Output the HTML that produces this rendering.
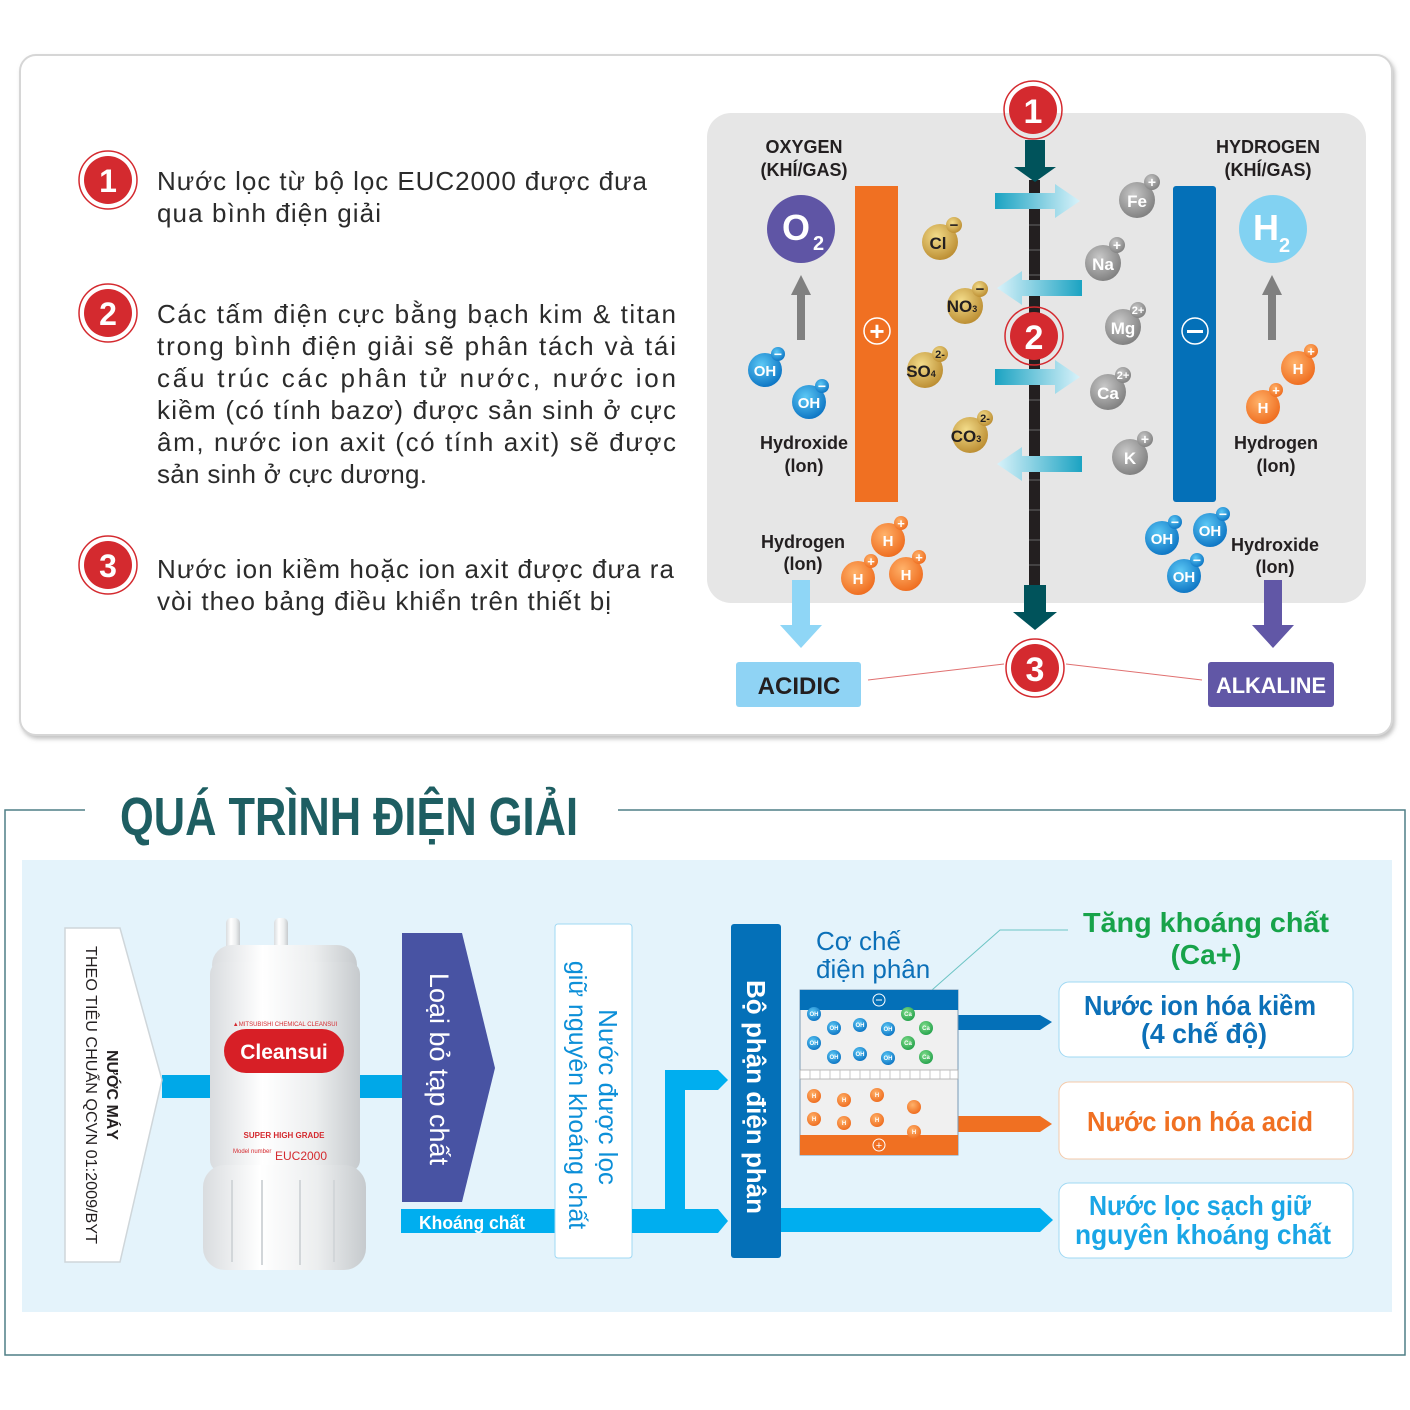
<!DOCTYPE html>
<html><head><meta charset="utf-8"><style>
html,body{margin:0;padding:0;background:#fff;}
svg{display:block;font-family:"Liberation Sans",sans-serif;}
</style></head><body>
<svg width="1410" height="1410" viewBox="0 0 1410 1410" xmlns="http://www.w3.org/2000/svg">
<defs>
<radialGradient id="gG" cx="0.4" cy="0.35" r="0.7"><stop offset="0" stop-color="#f3dc8a"/><stop offset="1" stop-color="#b98a2e"/></radialGradient>
<radialGradient id="gS" cx="0.4" cy="0.35" r="0.7"><stop offset="0" stop-color="#c8c8c8"/><stop offset="1" stop-color="#7d7d7d"/></radialGradient>
<radialGradient id="gB" cx="0.4" cy="0.35" r="0.7"><stop offset="0" stop-color="#5cc8f5"/><stop offset="1" stop-color="#0a72c2"/></radialGradient>
<radialGradient id="gO" cx="0.4" cy="0.35" r="0.7"><stop offset="0" stop-color="#ffb26a"/><stop offset="1" stop-color="#ee6a1c"/></radialGradient>
<radialGradient id="gGr" cx="0.4" cy="0.35" r="0.7"><stop offset="0" stop-color="#7fdc8a"/><stop offset="1" stop-color="#22a04a"/></radialGradient>
<linearGradient id="cyR" x1="0" x2="1"><stop offset="0" stop-color="#1ba3c2"/><stop offset="1" stop-color="#d8f2fa"/></linearGradient>
<linearGradient id="cyL" x1="1" x2="0"><stop offset="0" stop-color="#1ba3c2"/><stop offset="1" stop-color="#d8f2fa"/></linearGradient>
<linearGradient id="cyl" x1="0" x2="1"><stop offset="0" stop-color="#d9dcdf"/><stop offset="0.35" stop-color="#ffffff"/><stop offset="0.7" stop-color="#eceeef"/><stop offset="1" stop-color="#c6cacd"/></linearGradient>
<filter id="sh" x="-5%" y="-5%" width="110%" height="110%"><feDropShadow dx="2" dy="3" stdDeviation="2" flood-color="#999" flood-opacity="0.6"/></filter>
</defs>

<rect x="20" y="55" width="1372" height="680" rx="16" fill="#fff" stroke="#d6d6d6" stroke-width="2" filter="url(#sh)"/>

<g font-weight="bold" fill="#fff" text-anchor="middle" font-size="32">
<circle cx="108" cy="180" r="29" fill="none" stroke="#d42a2f" stroke-width="1.5"/><circle cx="108" cy="180" r="24" fill="#d42a2f"/><text x="108" y="192" fill="#fff">1</text>
<circle cx="108" cy="313" r="29" fill="none" stroke="#d42a2f" stroke-width="1.5"/><circle cx="108" cy="313" r="24" fill="#d42a2f"/><text x="108" y="325" fill="#fff">2</text>
<circle cx="108" cy="565" r="29" fill="none" stroke="#d42a2f" stroke-width="1.5"/><circle cx="108" cy="565" r="24" fill="#d42a2f"/><text x="108" y="577" fill="#fff">3</text>
</g>
<g font-size="26" fill="#2b2b2b" lengthAdjust="spacingAndGlyphs">
<text x="157" y="190" textLength="490">Nước lọc từ bộ lọc EUC2000 được đưa</text>
<text x="157" y="222" textLength="224">qua bình điện giải</text>
<text x="157" y="323" textLength="519">Các tấm điện cực bằng bạch kim &amp; titan</text>
<text x="157" y="355" textLength="519">trong bình điện giải sẽ phân tách và tái</text>
<text x="157" y="387" textLength="519">cấu trúc các phân tử nước, nước ion</text>
<text x="157" y="419" textLength="519">kiềm (có tính bazơ) được sản sinh ở cực</text>
<text x="157" y="451" textLength="519">âm, nước ion axit (có tính axit) sẽ được</text>
<text x="157" y="483" textLength="270">sản sinh ở cực dương.</text>
<text x="157" y="578" textLength="517">Nước ion kiềm hoặc ion axit được đưa ra</text>
<text x="157" y="610" textLength="454">vòi theo bảng điều khiển trên thiết bị</text>
</g>

<rect x="707" y="113" width="659" height="490" rx="24" fill="#e6e6e6"/>
<rect x="855" y="186" width="43" height="316" fill="#f07022"/>
<rect x="1173" y="186" width="43" height="316" rx="3" fill="#0470b8"/>
<circle cx="877" cy="331" r="13" fill="none" stroke="#fff" stroke-width="1.5"/><text x="877" y="340" fill="#fff" font-size="26" text-anchor="middle" font-weight="bold">+</text>
<circle cx="1195" cy="331" r="13" fill="none" stroke="#fff" stroke-width="1.5"/><rect x="1187" y="330" width="16" height="3" fill="#fff"/>

<rect x="1029" y="180" width="11" height="410" fill="#231f20"/>
<g stroke="#666" stroke-width="1">
<line x1="1029" y1="200" x2="1040" y2="200"/><line x1="1029" y1="225" x2="1040" y2="225"/><line x1="1029" y1="250" x2="1040" y2="250"/><line x1="1029" y1="275" x2="1040" y2="275"/><line x1="1029" y1="320" x2="1040" y2="320"/><line x1="1029" y1="350" x2="1040" y2="350"/><line x1="1029" y1="400" x2="1040" y2="400"/><line x1="1029" y1="430" x2="1040" y2="430"/><line x1="1029" y1="480" x2="1040" y2="480"/><line x1="1029" y1="510" x2="1040" y2="510"/><line x1="1029" y1="540" x2="1040" y2="540"/><line x1="1029" y1="565" x2="1040" y2="565"/>
</g>
<polygon points="1025,140 1045,140 1045,167 1056,167 1035,182 1014,167 1025,167" fill="#00535b"/>
<polygon points="1024,585 1046,585 1046,612 1057,612 1035,630 1013,612 1024,612" fill="#00535b"/>
<polygon points="995,193 1055,193 1055,184 1080,201 1055,218 1055,209 995,209" fill="url(#cyR)"/>
<polygon points="1082,280 1022,280 1022,271 997,288 1022,305 1022,296 1082,296" fill="url(#cyL)"/>
<polygon points="995,369 1055,369 1055,360 1080,377 1055,394 1055,385 995,385" fill="url(#cyR)"/>
<polygon points="1082,456 1022,456 1022,447 997,464 1022,481 1022,472 1082,472" fill="url(#cyL)"/>

<g font-weight="bold" text-anchor="middle" font-size="34">
<circle cx="1033" cy="110" r="29" fill="none" stroke="#d42a2f" stroke-width="1.5"/><circle cx="1033" cy="110" r="24" fill="#d42a2f"/><text x="1033" y="123" fill="#fff">1</text>
<circle cx="1034" cy="336" r="29" fill="none" stroke="#d42a2f" stroke-width="1.5"/><circle cx="1034" cy="336" r="24" fill="#d42a2f"/><text x="1034" y="349" fill="#fff">2</text>
<circle cx="1035" cy="668" r="29" fill="none" stroke="#d42a2f" stroke-width="1.5"/><circle cx="1035" cy="668" r="24" fill="#d42a2f"/><text x="1035" y="681" fill="#fff">3</text>
</g>
<line x1="868" y1="680" x2="1004" y2="664" stroke="#e07070" stroke-width="1"/>
<line x1="1066" y1="664" x2="1202" y2="680" stroke="#e07070" stroke-width="1"/>

<g font-weight="bold" fill="#231f20" text-anchor="middle" font-size="18">
<text x="804" y="153">OXYGEN</text><text x="804" y="176">(KHÍ/GAS)</text>
<text x="1268" y="153">HYDROGEN</text><text x="1268" y="176">(KHÍ/GAS)</text>
<text x="804" y="449">Hydroxide</text><text x="804" y="472">(lon)</text>
<text x="1276" y="449">Hydrogen</text><text x="1276" y="472">(lon)</text>
<text x="803" y="548">Hydrogen</text><text x="803" y="570">(lon)</text>
<text x="1275" y="551">Hydroxide</text><text x="1275" y="573">(lon)</text>
</g>
<circle cx="801" cy="229" r="34" fill="#5f55a5"/><text x="796" y="240" fill="#fff" font-size="36" font-weight="bold" text-anchor="middle">O</text><text x="813" y="250" fill="#fff" font-size="20" font-weight="bold">2</text>
<circle cx="1273" cy="229" r="34" fill="#82d2f2"/><text x="1266" y="240" fill="#fff" font-size="36" font-weight="bold" text-anchor="middle">H</text><text x="1279" y="252" fill="#fff" font-size="20" font-weight="bold">2</text>
<polygon points="797,340 805,340 805,295 811,295 801,275 791,295 797,295" fill="#808080"/>
<polygon points="1268,340 1276,340 1276,295 1282,295 1272,275 1262,295 1268,295" fill="#808080"/>
<polygon points="792,580 810,580 810,625 822,625 801,648 780,625 792,625" fill="#8fd6f6"/>
<polygon points="1264,580 1282,580 1282,625 1294,625 1273,648 1252,625 1264,625" fill="#6157a6"/>
<rect x="736" y="662" width="125" height="45" rx="3" fill="#8fd3f4"/><text x="799" y="694" text-anchor="middle" font-weight="bold" font-size="24" fill="#231f20">ACIDIC</text>
<rect x="1208" y="662" width="126" height="45" rx="3" fill="#6157a6"/><text x="1271" y="693" text-anchor="middle" font-weight="bold" font-size="22" fill="#fff" textLength="110" lengthAdjust="spacingAndGlyphs">ALKALINE</text>

<g font-weight="bold" text-anchor="middle" font-size="17">
<g fill="url(#gG)"><circle cx="940" cy="242" r="18"/><circle cx="965" cy="306" r="18"/><circle cx="925" cy="370" r="18"/><circle cx="970" cy="435" r="18"/></g>
<g fill="url(#gG)"><circle cx="954" cy="225" r="8"/><circle cx="980" cy="289" r="8"/><circle cx="940" cy="354" r="8"/><circle cx="985" cy="418" r="8"/></g>
<g fill="#231f20"><text x="938" y="249">Cl</text><text x="962" y="312">NO<tspan font-size="9">3</tspan></text><text x="921" y="377">SO<tspan font-size="9">4</tspan></text><text x="966" y="442">CO<tspan font-size="9">3</tspan></text>
<text x="954" y="230" font-size="15">−</text><text x="980" y="294" font-size="15">−</text><text x="940" y="358" font-size="11">2-</text><text x="985" y="422" font-size="11">2-</text></g>
<g fill="url(#gS)"><circle cx="1137" cy="200" r="18"/><circle cx="1103" cy="263" r="18"/><circle cx="1123" cy="327" r="18"/><circle cx="1108" cy="392" r="18"/><circle cx="1130" cy="457" r="18"/>
<circle cx="1152" cy="182" r="8"/><circle cx="1117" cy="245" r="8"/><circle cx="1138" cy="310" r="8"/><circle cx="1123" cy="375" r="8"/><circle cx="1145" cy="439" r="8"/></g>
<g fill="#fff"><text x="1137" y="207">Fe</text><text x="1103" y="270">Na</text><text x="1123" y="334">Mg</text><text x="1108" y="399">Ca</text><text x="1130" y="464">K</text>
<text x="1152" y="187" font-size="14">+</text><text x="1117" y="250" font-size="14">+</text><text x="1138" y="314" font-size="11">2+</text><text x="1123" y="379" font-size="11">2+</text><text x="1145" y="444" font-size="14">+</text></g>
<g fill="url(#gB)"><circle cx="765" cy="370" r="17"/><circle cx="809" cy="402" r="17"/><circle cx="1162" cy="538" r="17"/><circle cx="1210" cy="530" r="17"/><circle cx="1184" cy="576" r="17"/>
<circle cx="778" cy="354" r="7"/><circle cx="822" cy="386" r="7"/><circle cx="1175" cy="522" r="7"/><circle cx="1223" cy="514" r="7"/><circle cx="1197" cy="560" r="7"/></g>
<g fill="#fff" font-size="14"><text x="778" y="359">−</text><text x="822" y="391">−</text><text x="1175" y="527">−</text><text x="1223" y="519">−</text><text x="1197" y="565">−</text></g>
<g fill="#fff" font-size="15"><text x="765" y="376">OH</text><text x="809" y="408">OH</text><text x="1162" y="544">OH</text><text x="1210" y="536">OH</text><text x="1184" y="582">OH</text></g>
<g fill="url(#gO)"><circle cx="888" cy="540" r="17"/><circle cx="858" cy="578" r="17"/><circle cx="906" cy="574" r="17"/><circle cx="1298" cy="368" r="17"/><circle cx="1263" cy="407" r="17"/>
<circle cx="901" cy="523" r="7"/><circle cx="871" cy="561" r="7"/><circle cx="919" cy="557" r="7"/><circle cx="1311" cy="351" r="7"/><circle cx="1276" cy="390" r="7"/></g>
<g fill="#fff" font-size="13"><text x="901" y="528">+</text><text x="871" y="566">+</text><text x="919" y="562">+</text><text x="1311" y="356">+</text><text x="1276" y="395">+</text></g>
<g fill="#fff" font-size="15"><text x="888" y="546">H</text><text x="858" y="584">H</text><text x="906" y="580">H</text><text x="1298" y="374">H</text><text x="1263" y="413">H</text></g>
</g>

<path d="M85,810 H5 V1355 H1405 V810 H618" fill="none" stroke="#4f7f86" stroke-width="1.5"/>
<text x="120" y="835" font-family="'Liberation Sans Narrow','Liberation Sans',sans-serif" font-weight="bold" font-size="54" fill="#1e5e62" textLength="458" lengthAdjust="spacingAndGlyphs">QUÁ TRÌNH ĐIỆN GIẢI</text>
<rect x="22" y="860" width="1370" height="452" fill="#e4f3fb"/>

<rect x="162" y="1075" width="240" height="23" fill="#00a8e8"/>
<polygon points="65,928 120,928 162,1080 120,1262 65,1262" fill="#fff" stroke="#cfd6da" stroke-width="1.5"/>
<text transform="translate(107,1095) rotate(90)" text-anchor="middle" font-weight="bold" font-size="16" fill="#231f20">NƯỚC MÁY</text>
<text transform="translate(86,1095) rotate(90)" text-anchor="middle" font-size="16" fill="#231f20" textLength="298" lengthAdjust="spacingAndGlyphs">THEO TIÊU CHUẨN QCVN 01:2009/BYT</text>

<g>
<rect x="226" y="918" width="14" height="50" rx="5" fill="url(#cyl)"/>
<rect x="274" y="918" width="14" height="50" rx="5" fill="url(#cyl)"/>
<rect x="212" y="945" width="145" height="40" rx="20" fill="url(#cyl)"/>
<rect x="210" y="962" width="150" height="210" rx="12" fill="url(#cyl)"/>
<rect x="203" y="1165" width="163" height="105" rx="22" fill="url(#cyl)"/>
<g stroke="#d2d6d9" stroke-width="2"><line x1="232" y1="1180" x2="232" y2="1262"/><line x1="262" y1="1180" x2="262" y2="1265"/><line x1="300" y1="1180" x2="300" y2="1265"/><line x1="334" y1="1180" x2="334" y2="1262"/></g>
<text x="285" y="1026" text-anchor="middle" font-size="6" fill="#d42a2f">▲MITSUBISHI CHEMICAL CLEANSUI</text>
<rect x="224" y="1029" width="120" height="44" rx="22" fill="#d71f26"/>
<text x="284" y="1059" text-anchor="middle" font-weight="bold" font-size="21" fill="#fff">Cleansui</text>
<text x="284" y="1138" text-anchor="middle" font-size="8" font-weight="bold" fill="#d42a2f">SUPER HIGH GRADE</text>
<text x="233" y="1153" font-size="6" fill="#d42a2f">Model number</text>
<text x="275" y="1160" font-size="12" fill="#d42a2f">EUC2000</text>
</g>

<polygon points="402,933 462,933 495,1068 462,1202 402,1202" fill="#4853a3"/>
<text transform="translate(430,1069) rotate(90)" text-anchor="middle" font-size="27" fill="#fff">Loại bỏ tạp chất</text>
<rect x="401" y="1209" width="154" height="24" fill="#00aeef"/>
<text x="419" y="1229" font-weight="bold" font-size="18" fill="#fff" textLength="106" lengthAdjust="spacingAndGlyphs">Khoáng chất</text>
<rect x="555" y="924" width="77" height="334" rx="3" fill="#fff" stroke="#9fd8f3" stroke-width="1"/>
<text transform="translate(599,1097) rotate(90)" text-anchor="middle" font-size="26" fill="#0c8fd8">Nước được lọc</text>
<text transform="translate(569,1095) rotate(90)" text-anchor="middle" font-size="25" fill="#0c8fd8">giữ nguyên khoáng chất</text>
<polygon points="632,1209 718,1209 728,1221 718,1233 632,1233" fill="#00aeef"/>
<polygon points="665,1233 665,1070 718,1070 728,1080 718,1090 685,1090 685,1233" fill="#00aeef"/>
<rect x="731" y="924" width="50" height="334" rx="3" fill="#0470b8"/>
<text transform="translate(747,1097) rotate(90)" text-anchor="middle" font-weight="bold" font-size="26" fill="#fff">Bộ phận điện phân</text>
<polygon points="781,1208 1040,1208 1053,1220 1040,1232 781,1232" fill="#00aeef"/>
<polygon points="958,1015 1040,1015 1052,1022 1040,1030 958,1030" fill="#0470b8"/>
<polygon points="958,1116 1040,1116 1052,1124 1040,1132 958,1132" fill="#f07022"/>

<text x="816" y="950" font-size="26" fill="#0c70b8">Cơ chế</text>
<text x="816" y="978" font-size="26" fill="#0c70b8">điện phân</text>
<polyline points="915,1005 1000,930 1068,930" fill="none" stroke="#6cc4c4" stroke-width="1"/>
<rect x="800" y="990" width="158" height="165" fill="#f0f0f0" stroke="#7a9ab5" stroke-width="1"/>
<rect x="800" y="990" width="158" height="20" fill="#0470b8"/>
<circle cx="879" cy="1000" r="6" fill="none" stroke="#fff"/><line x1="876" y1="1000" x2="882" y2="1000" stroke="#fff"/>
<rect x="800" y="1070" width="158" height="9" fill="#fff" stroke="#aaa" stroke-width="0.8"/>
<g stroke="#bbb" stroke-width="0.8"><line x1="810" y1="1070" x2="810" y2="1079"/><line x1="820" y1="1070" x2="820" y2="1079"/><line x1="830" y1="1070" x2="830" y2="1079"/><line x1="840" y1="1070" x2="840" y2="1079"/><line x1="850" y1="1070" x2="850" y2="1079"/><line x1="860" y1="1070" x2="860" y2="1079"/><line x1="870" y1="1070" x2="870" y2="1079"/><line x1="880" y1="1070" x2="880" y2="1079"/><line x1="890" y1="1070" x2="890" y2="1079"/><line x1="900" y1="1070" x2="900" y2="1079"/><line x1="910" y1="1070" x2="910" y2="1079"/><line x1="920" y1="1070" x2="920" y2="1079"/><line x1="930" y1="1070" x2="930" y2="1079"/><line x1="940" y1="1070" x2="940" y2="1079"/><line x1="950" y1="1070" x2="950" y2="1079"/></g>
<rect x="800" y="1135" width="158" height="20" fill="#f07022"/>
<circle cx="879" cy="1145" r="6" fill="none" stroke="#fff"/><text x="879" y="1149" fill="#fff" font-size="11" text-anchor="middle">+</text>
<g fill="url(#gB)"><circle cx="814" cy="1014" r="7"/><circle cx="834" cy="1028" r="7"/><circle cx="860" cy="1025" r="7"/><circle cx="888" cy="1029" r="7"/><circle cx="814" cy="1043" r="7"/><circle cx="834" cy="1057" r="7"/><circle cx="860" cy="1054" r="7"/><circle cx="888" cy="1058" r="7"/></g>
<g fill="url(#gGr)"><circle cx="908" cy="1014" r="7"/><circle cx="926" cy="1028" r="7"/><circle cx="908" cy="1043" r="7"/><circle cx="926" cy="1057" r="7"/></g>
<g fill="url(#gO)"><circle cx="814" cy="1096" r="7"/><circle cx="844" cy="1100" r="7"/><circle cx="877" cy="1095" r="7"/><circle cx="814" cy="1119" r="7"/><circle cx="844" cy="1123" r="7"/><circle cx="877" cy="1120" r="7"/><circle cx="914" cy="1107" r="7"/><circle cx="914" cy="1132" r="7"/></g>
<g fill="#fff" font-size="6" text-anchor="middle" font-weight="bold"><text x="814" y="1016">OH</text><text x="834" y="1030">OH</text><text x="860" y="1027">OH</text><text x="888" y="1031">OH</text><text x="814" y="1045">OH</text><text x="834" y="1059">OH</text><text x="860" y="1056">OH</text><text x="888" y="1060">OH</text>
<text x="908" y="1016">Ca</text><text x="926" y="1030">Ca</text><text x="908" y="1045">Ca</text><text x="926" y="1059">Ca</text>
<text x="814" y="1098">H</text><text x="844" y="1102">H</text><text x="877" y="1097">H</text><text x="814" y="1121">H</text><text x="844" y="1125">H</text><text x="877" y="1122">H</text><text x="914" y="1134">H</text></g>

<text x="1206" y="932" text-anchor="middle" font-weight="bold" font-size="28" fill="#17a34a" textLength="246" lengthAdjust="spacingAndGlyphs">Tăng khoáng chất</text>
<text x="1206" y="964" text-anchor="middle" font-weight="bold" font-size="28" fill="#17a34a">(Ca+)</text>
<rect x="1059" y="982" width="294" height="75" rx="10" fill="#fff" stroke="#9fd8f3"/>
<text x="1200" y="1015" text-anchor="middle" font-weight="bold" font-size="28" fill="#0c70b8" textLength="232" lengthAdjust="spacingAndGlyphs">Nước ion hóa kiềm</text>
<text x="1204" y="1043" text-anchor="middle" font-weight="bold" font-size="28" fill="#0c70b8" textLength="126" lengthAdjust="spacingAndGlyphs">(4 chế độ)</text>
<rect x="1059" y="1082" width="294" height="77" rx="10" fill="#fff" stroke="#f5c9a8"/>
<text x="1200" y="1131" text-anchor="middle" font-weight="bold" font-size="28" fill="#f07022" textLength="226" lengthAdjust="spacingAndGlyphs">Nước ion hóa acid</text>
<rect x="1059" y="1183" width="294" height="75" rx="10" fill="#fff" stroke="#9fd8f3"/>
<text x="1200" y="1215" text-anchor="middle" font-weight="bold" font-size="28" fill="#1aa6e6" textLength="222" lengthAdjust="spacingAndGlyphs">Nước lọc sạch giữ</text>
<text x="1203" y="1244" text-anchor="middle" font-weight="bold" font-size="28" fill="#1aa6e6" textLength="256" lengthAdjust="spacingAndGlyphs">nguyên khoáng chất</text>
</svg>
</body></html>
